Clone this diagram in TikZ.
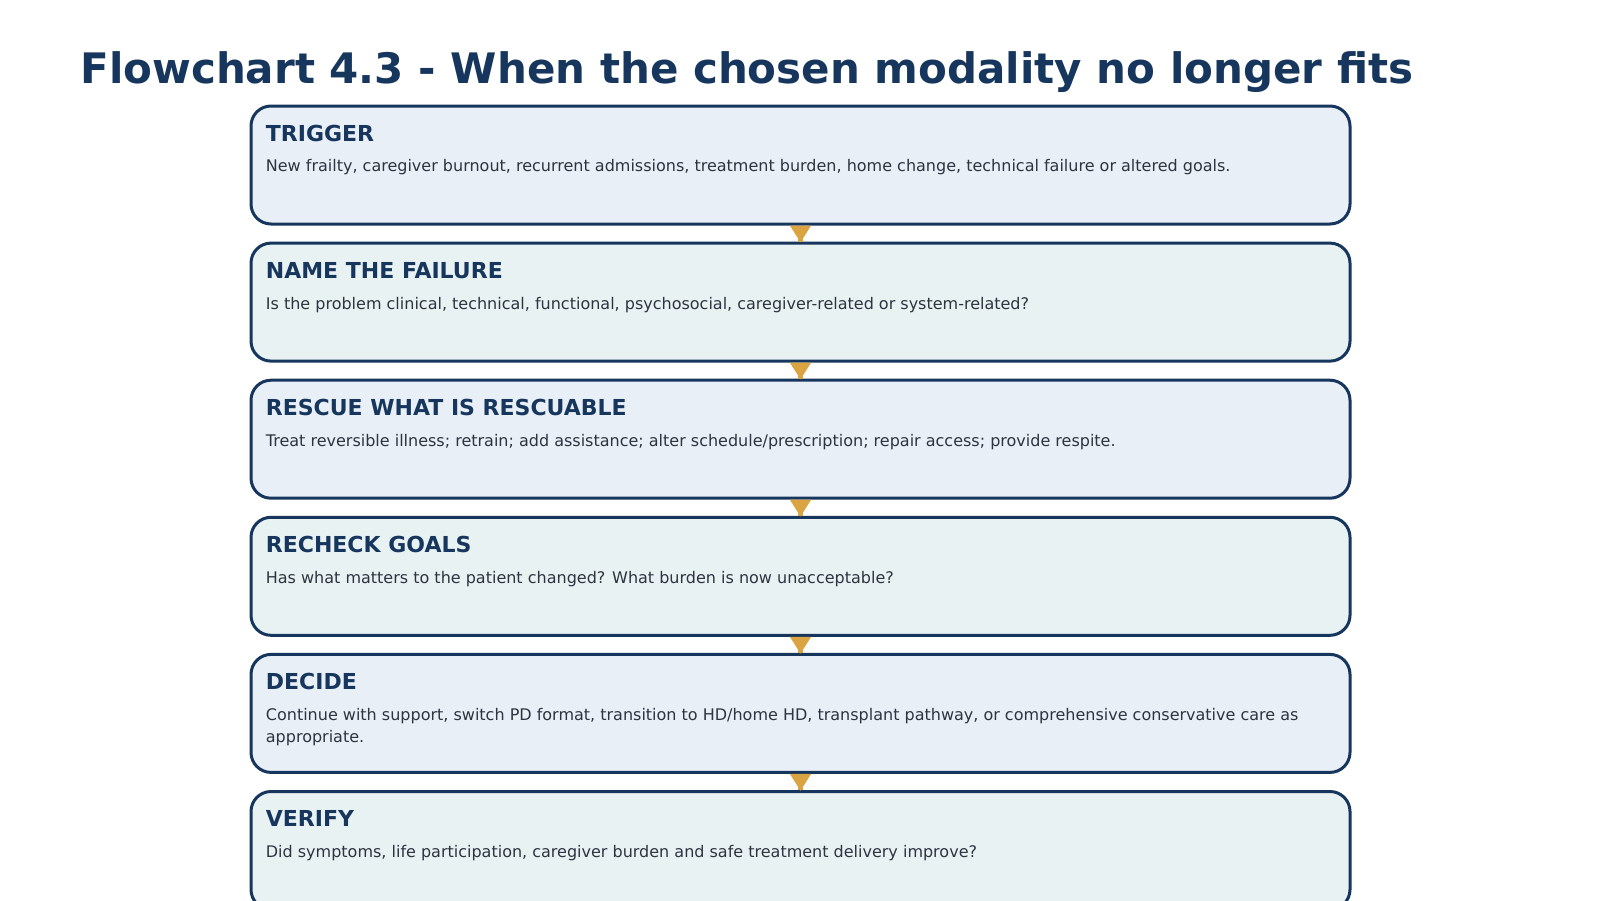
\documentclass[tikz,border=0pt]{standalone}
\usepackage{fontspec}
\setmainfont{DejaVu Sans}
\usetikzlibrary{arrows.meta, positioning}
\tikzstyle{stepbox} = [draw=navy, line width=1.5pt, rounded corners=10pt, minimum width=549.5pt, minimum height=59pt, inner sep=0pt]
\tikzstyle{head} = [anchor=base west, inner sep=0pt, text=navy, font=\fontsize{11}{13}\selectfont\bfseries]
\tikzstyle{body} = [anchor=base west, inner sep=0pt, text=bodytext, font=\fontsize{8}{11.3}\selectfont, align=left]
\tikzstyle{link} = [draw=gold, line width=2.25pt, {Triangle[reversed, width=10pt, length=8.5pt]}-]
\definecolor{navy}{HTML}{17365D}
\definecolor{fillblue}{HTML}{E8EFF7}
\definecolor{fillteal}{HTML}{E9F2F3}
\definecolor{bodytext}{HTML}{2D3440}
\definecolor{gold}{HTML}{D9A441}
\begin{document}
\begin{tikzpicture}[x=0.5pt, y=-0.5pt]
	\useasboundingbox (0,0) rectangle (1600,900);
	\clip (0,0) rectangle (1600,900);

	\node[anchor=base west, inner sep=0pt, text=navy, font=\fontsize{21}{25}\selectfont\bfseries] (title) at (80,83) {Flowchart 4.3 - When the chosen modality no longer fits};

	\node[stepbox, fill=fillblue] (trigger) at (800.5,165) {};
	\node[stepbox, fill=fillteal, below=8.05pt of trigger] (failure) {};
	\node[stepbox, fill=fillblue, below=8.05pt of failure] (rescue) {};
	\node[stepbox, fill=fillteal, below=8.05pt of rescue] (goals) {};
	\node[stepbox, fill=fillblue, below=8.05pt of goals] (decide) {};
	\node[stepbox, fill=fillteal, below=8.05pt of decide] (verify) {};

	\node[head] (triggerhead) at ([xshift=8pt, yshift=-18.4pt]trigger.north west) {TRIGGER};
	\node[body] (triggerbody) at ([xshift=8pt, yshift=-33.7pt]trigger.north west) {New frailty, caregiver burnout, recurrent admissions, treatment burden, home change, technical failure or altered goals.};

	\node[head] (failurehead) at ([xshift=8pt, yshift=-18.4pt]failure.north west) {NAME THE FAILURE};
	\node[body] (failurebody) at ([xshift=8pt, yshift=-33.7pt]failure.north west) {Is the problem clinical, technical, functional, psychosocial, caregiver-related or system-related?};

	\node[head] (rescuehead) at ([xshift=8pt, yshift=-18.4pt]rescue.north west) {RESCUE WHAT IS RESCUABLE};
	\node[body] (rescuebody) at ([xshift=8pt, yshift=-33.7pt]rescue.north west) {Treat reversible illness; retrain; add assistance; alter schedule/prescription; repair access; provide respite.};

	\node[head] (goalshead) at ([xshift=8pt, yshift=-18.4pt]goals.north west) {RECHECK GOALS};
	\node[body] (goalsbody) at ([xshift=8pt, yshift=-33.7pt]goals.north west) {Has what matters to the patient changed? What burden is now unacceptable?};

	\node[head] (decidehead) at ([xshift=8pt, yshift=-18.4pt]decide.north west) {DECIDE};
	% two lines: base is the last line
	\node[body] (decidebody) at ([xshift=8pt, yshift=-45pt]decide.north west) {Continue with support, switch PD format, transition to HD/home HD, transplant pathway, or comprehensive conservative care as\\appropriate.};

	\node[head] (verifyhead) at ([xshift=8pt, yshift=-18.4pt]verify.north west) {VERIFY};
	\node[body] (verifybody) at ([xshift=8pt, yshift=-33.7pt]verify.north west) {Did symptoms, life participation, caregiver burden and safe treatment delivery improve?};

	\draw[link] (trigger) -- (failure);
	\draw[link] (failure) -- (rescue);
	\draw[link] (rescue) -- (goals);
	\draw[link] (goals) -- (decide);
	\draw[link] (decide) -- (verify);

\end{tikzpicture}
\end{document}
